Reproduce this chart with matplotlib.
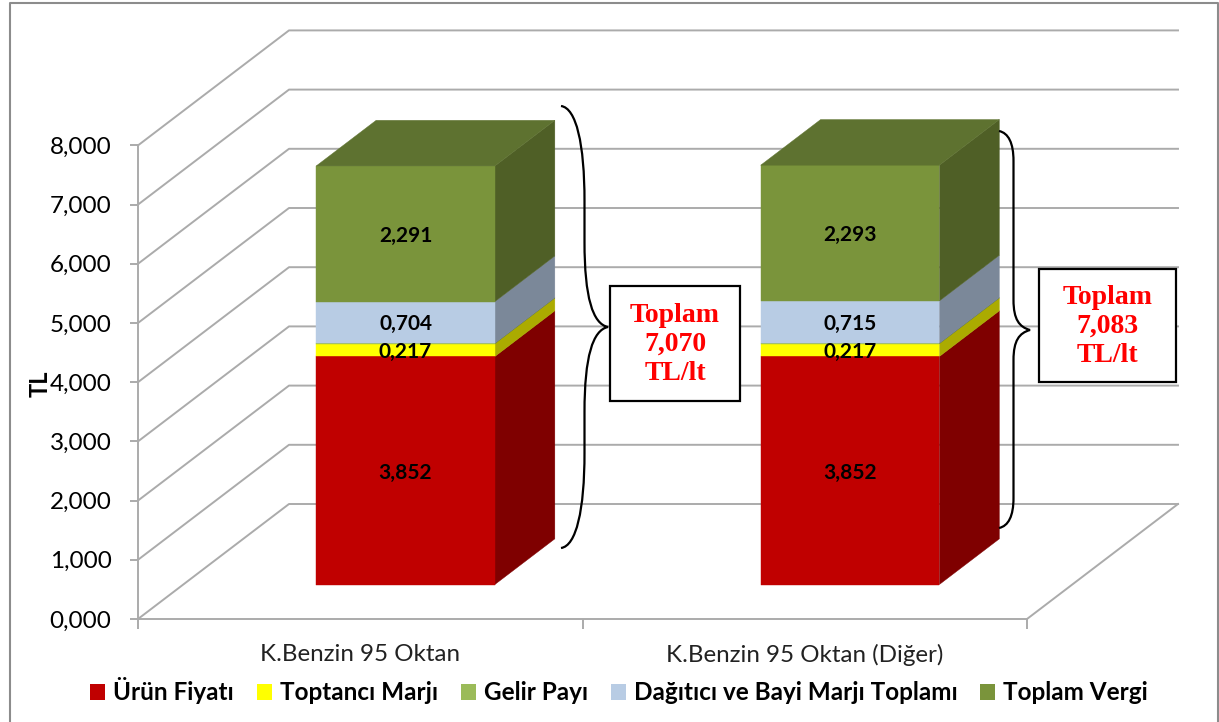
import matplotlib.pyplot as plt
from matplotlib.patches import Polygon, PathPatch, Rectangle
from matplotlib.path import Path
from matplotlib.ticker import FuncFormatter

plt.rcParams['font.family'] = ['Lato', 'DejaVu Sans']

# --- data ---
categories = ["K.Benzin 95 Oktan", "K.Benzin 95 Oktan (Diğer)"]
series = ["Ürün Fiyatı", "Toptancı Marjı", "Gelir Payı", "Dağıtıcı ve Bayi Marjı Toplamı", "Toplam Vergi"]
urun_fiyati = [3.852, 3.852]
toptanci_marji = [0.217, 0.217]
gelir_payi = [0.006, 0.006]
dagitici_marji = [0.704, 0.715]
toplam_vergi = [2.291, 2.293]
toplam_labels = ["Toplam\n7,070\nTL/lt", "Toplam\n7,083\nTL/lt"]
yticks = [0, 1, 2, 3, 4, 5, 6, 7, 8]

values = [urun_fiyati, toptanci_marji, gelir_payi, dagitici_marji, toplam_vergi]
show_label = [True, True, False, True, True]

# --- styles ---
front_colors = ['#C00000', '#FFFF00', '#9BBB59', '#B8CCE4', '#7A943B']
side_colors = ['#7F0000', '#ABAB00', '#62773A', '#7B8899', '#4F5F26']
top_color = '#5E7230'
grid_color = '#ABABAB'

W, H = 1219, 722
# 3d look: how far one unit of depth shifts a point, in axis units
DX = 151 / 444.5
DY = 115 / 59.2
bar_w = 0.402
d0, d1 = 0.30, 0.697
x_right = 2.0


def proj(x, y, d):
    return (x + d * DX, y + d * DY)


def fpx(x, y):
    # pixel position of the reference -> figure fraction
    return (x / W, 1 - y / H)


fig = plt.figure(figsize=(W / 100, H / 100), dpi=100)
ax = fig.add_axes([138 / W, 1 - 619 / H, 889 / W, 473.6 / H])
ax.set_xlim(0, x_right)
ax.set_ylim(0, 8)
ax.patch.set_visible(False)

for s in ['top', 'right']:
    ax.spines[s].set_visible(False)
for s in ['left', 'bottom']:
    ax.spines[s].set_color(grid_color)
    ax.spines[s].set_linewidth(1.4)

# walls
for v in yticks:
    pts = [proj(0, v, 0), proj(0, v, 1), proj(x_right, v, 1)]
    ax.plot([p[0] for p in pts], [p[1] for p in pts], color=grid_color, lw=1.4, clip_on=False, zorder=1)
fl = [proj(x_right, 0, 1), proj(x_right, 0, 0)]
ax.plot([p[0] for p in fl], [p[1] for p in fl], color=grid_color, lw=1.4, clip_on=False, zorder=1)

# bars
for i in range(len(categories)):
    x0 = i + 0.5 - bar_w / 2
    x1 = i + 0.5 + bar_w / 2
    bottom = 0
    for k, vals in enumerate(values):
        top = bottom + vals[i]
        side = [proj(x1, bottom, d0), proj(x1, bottom, d1), proj(x1, top, d1), proj(x1, top, d0)]
        front = [proj(x0, bottom, d0), proj(x1, bottom, d0), proj(x1, top, d0), proj(x0, top, d0)]
        ax.add_patch(Polygon(side, fc=side_colors[k], ec=side_colors[k], lw=0.3, clip_on=False, zorder=3))
        ax.add_patch(Polygon(front, fc=front_colors[k], ec=front_colors[k], lw=0.3, clip_on=False, zorder=4))
        if show_label[k]:
            cx, cy = proj(i + 0.5, bottom + vals[i] / 2, d0)
            ax.text(cx, cy, f"{vals[i]:.3f}".replace('.', ','), ha='center', va='center_baseline',
                    fontsize=15, fontweight='bold', color='black', zorder=6, clip_on=False)
        bottom = top
    cap = [proj(x0, bottom, d0), proj(x1, bottom, d0), proj(x1, bottom, d1), proj(x0, bottom, d1)]
    ax.add_patch(Polygon(cap, fc=top_color, ec=top_color, lw=0.3, clip_on=False, zorder=5))

# axes
ax.set_yticks(yticks)
ax.yaxis.set_major_formatter(FuncFormatter(lambda v, p: f"{v:.3f}".replace('.', ',')))
ax.tick_params(axis='y', labelsize=17.5, length=6, width=1.4, color=grid_color, pad=13, labelcolor='black')
ax.set_xticks([0, 1, 2])
ax.set_xticklabels([])
ax.set_xticks([0.5, 1.5], minor=True)
ax.set_xticklabels(categories, minor=True, fontsize=17.4, color='#222222')
ax.tick_params(axis='x', which='major', length=7, width=1.4, color=grid_color)
ax.tick_params(axis='x', which='minor', length=0, pad=18)
fig.text(*fpx(40, 384), "TL", rotation=90, ha='center', va='center', fontsize=17, fontweight='bold')

# legend
handles = [Rectangle((0, 0), 1, 1, fc=c, ec='none') for c in front_colors]
fig.legend(handles, series, loc='center', bbox_to_anchor=fpx(619, 691), ncol=5, frameon=False,
           handlelength=0.62, handleheight=0.62, handletextpad=0.33, columnspacing=0.94,
           prop={'weight': 'bold', 'size': 17.5})


# braces and boxes, drawn in figure fraction
def brace(xa, ya, yb, xtip, ytip, xm, curl, tipcurl):
    verts = [(xa, ya),
             (xa + (xm - xa) * 0.65, ya + 2), (xm, ya + curl * 0.4), (xm, ya + curl),
             (xm, ytip - tipcurl),
             (xm, ytip - tipcurl * 0.35), (xm + (xtip - xm) * 0.35, ytip - 3), (xtip, ytip),
             (xm + (xtip - xm) * 0.35, ytip + 3), (xm, ytip + tipcurl * 0.35), (xm, ytip + tipcurl),
             (xm, yb - curl),
             (xm, yb - curl * 0.4), (xa + (xm - xa) * 0.65, yb - 2), (xa, yb)]
    codes = [Path.MOVETO, Path.CURVE4, Path.CURVE4, Path.CURVE4, Path.LINETO,
             Path.CURVE4, Path.CURVE4, Path.CURVE4, Path.CURVE4, Path.CURVE4, Path.CURVE4, Path.LINETO,
             Path.CURVE4, Path.CURVE4, Path.CURVE4]
    path = Path([fpx(*v) for v in verts], codes)
    fig.add_artist(PathPatch(path, fc='none', ec='black', lw=1.6, transform=fig.transFigure, zorder=7))


brace(561, 106, 548, 608, 327, 584.5, 95, 85)
brace(999, 131, 528, 1030, 330, 1013.5, 30, 30)

boxes = [(610, 286, 740, 401), (1039, 269, 1176, 382)]
for (bx0, by0, bx1, by1), lab in zip(boxes, toplam_labels):
    xa, ya = fpx(bx0, by1)
    fig.add_artist(Rectangle((xa, ya), (bx1 - bx0) / W, (by1 - by0) / H, fc='white', ec='black', lw=1.6,
                             transform=fig.transFigure, zorder=8))
    fig.text(*fpx((bx0 + bx1) / 2, (by0 + by1) / 2 + 1), lab, ha='center', va='center', color='#FF0000',
             family='Liberation Serif', fontweight='bold', fontsize=20, linespacing=1.2, zorder=9)

# outer frame
fig.add_artist(plt.Line2D([10 / W, 10 / W, 1217.5 / W, 1217.5 / W], [0, 1 - 3 / H, 1 - 3 / H, 0], color='#8C8C8C', lw=1.5,
                          transform=fig.transFigure, zorder=0))

fig.savefig("out.png", dpi=100)
